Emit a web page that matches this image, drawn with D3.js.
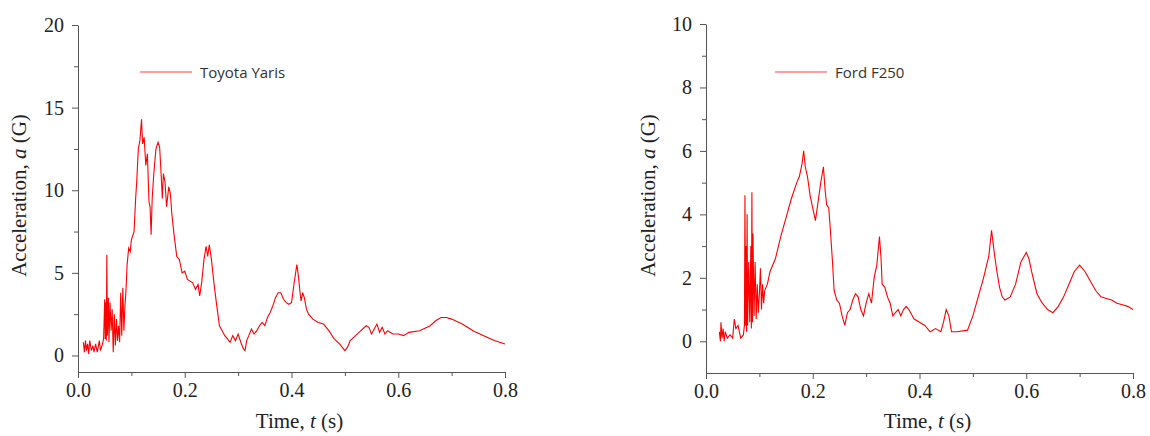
<!doctype html>
<html>
<head>
<style>
  body { margin: 0; background: #fff; }
  .domain, .tick line { stroke: #555; }
  svg text.serif, svg .tick text { font-family: "Times New Roman", "Liberation Serif", "DejaVu Serif", serif !important; }
  svg .tick text { font-size: 20px !important; fill: #222; }
</style>
<script src="https://d3js.org/d3.v7.min.js"></script>
</head>
<body>
<svg width="1150" height="436"></svg>
<script>
var xTicks = [0, 0.2, 0.4, 0.6, 0.8];
var xMinor = [0.1, 0.3, 0.5, 0.7];

var yarisT = [0.01,0.012,0.014,0.016,0.018,0.02,0.022,0.025,0.028,0.03,0.033,0.036,0.04,0.042,0.045,0.048,0.05,0.051,0.052,0.053,0.054,0.055,0.057,0.058,0.06,0.062,0.064,0.066,0.068,0.07,0.072,0.074,0.076,0.078,0.08,0.082,0.084,0.086,0.088,0.09,0.092,0.095,0.098,0.1,0.105,0.108,0.11,0.113,0.116,0.119,0.121,0.124,0.127,0.13,0.133,0.135,0.137,0.139,0.142,0.146,0.15,0.153,0.156,0.158,0.16,0.163,0.166,0.17,0.173,0.176,0.18,0.185,0.19,0.195,0.2,0.205,0.21,0.215,0.22,0.225,0.228,0.232,0.236,0.24,0.243,0.246,0.25,0.255,0.26,0.265,0.27,0.275,0.28,0.285,0.29,0.295,0.3,0.305,0.31,0.313,0.316,0.32,0.325,0.33,0.335,0.34,0.345,0.35,0.355,0.36,0.365,0.37,0.375,0.38,0.385,0.39,0.395,0.4,0.405,0.41,0.413,0.416,0.418,0.421,0.424,0.428,0.432,0.44,0.45,0.46,0.47,0.48,0.49,0.5,0.505,0.51,0.52,0.53,0.54,0.545,0.55,0.555,0.56,0.565,0.57,0.575,0.58,0.59,0.6,0.61,0.62,0.64,0.66,0.67,0.68,0.69,0.7,0.72,0.74,0.76,0.78,0.8];
var yarisA = [0.8,0.2,0.9,0.3,0.7,0.1,0.9,0.3,0.6,0.2,0.7,0.2,0.9,0.3,0.6,1.0,3.4,1.0,3.2,0.9,6.1,1.2,3.5,0.8,3.2,1.5,2.8,0.2,2.5,0.6,2.2,0.9,1.8,0.8,3.8,1.2,4.1,1.5,3.0,4.0,5.5,6.5,6.3,7.0,7.5,9.5,10.5,12.5,13.0,14.3,12.8,13.2,11.5,12.2,9.3,9.0,7.3,9.5,11.0,12.5,12.9,12.6,10.8,9.5,11.0,10.5,9.0,10.2,9.8,8.5,7.3,6.0,5.8,5.0,5.1,4.6,4.5,4.4,4.0,4.3,3.6,4.5,5.8,6.6,6.0,6.7,5.8,4.3,3.0,1.8,1.5,1.2,1.0,0.8,1.2,0.9,1.3,0.8,0.4,0.3,0.9,1.2,1.6,1.3,1.5,1.8,2.0,1.8,2.3,2.6,3.0,3.5,3.8,3.8,3.4,3.2,3.1,3.2,4.4,5.5,4.8,3.8,3.3,3.8,3.5,2.8,2.5,2.2,2.0,1.9,1.5,1.0,0.7,0.3,0.5,0.9,1.2,1.5,1.8,1.7,1.3,1.6,1.9,1.4,1.7,1.3,1.5,1.3,1.3,1.2,1.4,1.5,1.8,2.1,2.3,2.3,2.2,1.9,1.5,1.2,0.9,0.7];

var fordT = [0.025,0.027,0.028,0.03,0.032,0.034,0.036,0.04,0.045,0.05,0.053,0.056,0.06,0.065,0.07,0.072,0.073,0.074,0.075,0.076,0.077,0.078,0.08,0.082,0.084,0.085,0.086,0.087,0.088,0.09,0.092,0.094,0.096,0.098,0.1,0.102,0.104,0.106,0.108,0.11,0.115,0.12,0.13,0.14,0.15,0.16,0.17,0.175,0.18,0.183,0.186,0.19,0.195,0.2,0.205,0.21,0.215,0.22,0.223,0.226,0.23,0.233,0.237,0.24,0.245,0.25,0.255,0.26,0.265,0.27,0.275,0.28,0.285,0.29,0.295,0.3,0.305,0.31,0.315,0.32,0.325,0.328,0.33,0.335,0.34,0.345,0.35,0.355,0.36,0.365,0.37,0.375,0.38,0.39,0.4,0.41,0.42,0.43,0.44,0.445,0.45,0.455,0.46,0.47,0.49,0.5,0.51,0.52,0.53,0.535,0.54,0.545,0.55,0.555,0.56,0.57,0.58,0.59,0.6,0.605,0.61,0.62,0.63,0.64,0.65,0.66,0.67,0.68,0.69,0.7,0.71,0.72,0.73,0.74,0.75,0.76,0.77,0.78,0.79,0.8];
var fordA = [0.3,0.0,0.6,0.1,0.4,0.0,0.3,0.1,0.2,0.1,0.7,0.4,0.5,0.1,0.2,0.5,4.6,0.5,3.0,0.3,4.0,0.5,2.5,0.6,3.0,0.4,4.7,0.6,3.4,0.8,2.5,0.7,1.8,0.9,1.5,2.3,1.0,1.8,1.2,1.6,1.8,2.2,2.6,3.3,3.9,4.5,5.0,5.2,5.6,6.0,5.5,5.2,4.6,4.2,3.8,4.4,5.0,5.5,4.8,4.3,4.2,3.5,2.5,1.6,1.3,1.2,0.8,0.5,0.9,1.0,1.3,1.5,1.4,1.0,0.8,1.2,1.5,1.2,2.0,2.4,3.3,2.6,1.8,1.7,1.4,1.2,0.8,0.9,1.0,0.8,1.0,1.1,1.0,0.7,0.6,0.5,0.3,0.4,0.3,0.6,1.0,0.8,0.3,0.3,0.35,0.8,1.4,2.0,2.7,3.5,2.8,2.2,1.7,1.4,1.3,1.4,1.8,2.5,2.8,2.6,2.2,1.5,1.2,1.0,0.9,1.1,1.4,1.8,2.2,2.4,2.2,1.9,1.6,1.4,1.35,1.3,1.2,1.15,1.1,1.0];

var svg = d3.select("svg");

function panel(cfg) {
  var x = d3.scaleLinear().domain([0, 0.8]).range([cfg.x0, cfg.x1]);
  var y = d3.scaleLinear().domain(cfg.yDom).range([cfg.yBot, cfg.yTop]);

  svg.append("g")
     .attr("transform", "translate(0," + cfg.yBot + ")")
     .call(d3.axisBottom(x).tickValues(xTicks).tickFormat(d3.format(".1f")).tickSize(6).tickPadding(5));
  svg.append("g")
     .attr("transform", "translate(0," + cfg.yBot + ")")
     .call(d3.axisBottom(x).tickValues(xMinor).tickFormat("").tickSize(4))
     .select(".domain").remove();

  svg.append("g")
     .attr("transform", "translate(" + cfg.x0 + ",0)")
     .call(d3.axisLeft(y).tickValues(cfg.yTicks).tickSize(6).tickPadding(8).tickSizeOuter(0));
  svg.append("g")
     .attr("transform", "translate(" + cfg.x0 + ",0)")
     .call(d3.axisLeft(y).tickValues(cfg.yMinor).tickFormat("").tickSize(4))
     .select(".domain").remove();

  var pts = cfg.t.map(function(d, i) { return [d, cfg.a[i]]; });
  svg.append("path")
     .datum(pts)
     .attr("fill", "none")
     .attr("stroke", "#ff0000")
     .attr("stroke-width", 1.1)
     .attr("d", d3.line().x(function(d) { return x(d[0]); }).y(function(d) { return y(d[1]); }));

  svg.append("line")
     .attr("x1", cfg.legX).attr("x2", cfg.legX + 52)
     .attr("y1", 72).attr("y2", 72)
     .attr("stroke", "#ff4040").attr("stroke-width", 1.2);
  svg.append("text")
     .attr("x", cfg.legX + 60).attr("y", 78)
     .attr("font-family", "Open Sans, sans-serif").attr("font-size", "15px")
     .attr("fill", "#333")
     .text(cfg.name);

  svg.append("text")
     .attr("class", "serif")
     .attr("x", (cfg.x0 + cfg.x1) / 2 + 8).attr("y", 428)
     .attr("text-anchor", "middle")
     .attr("font-size", "21px")
     .attr("fill", "#222")
     .html("Time, <tspan font-style='italic'>t</tspan> (s)");

  svg.append("text")
     .attr("class", "serif")
     .attr("transform", "translate(" + cfg.titleX + "," + ((cfg.yTop + cfg.yBot) / 2 - 3) + ") rotate(-90)")
     .attr("text-anchor", "middle")
     .attr("font-size", "21px")
     .attr("fill", "#222")
     .html("Acceleration, <tspan font-style='italic'>a</tspan> (G)");
}

panel({ x0: 78, x1: 505, yBot: 372, yTop: 25, yDom: [-1, 20],
        yTicks: [0, 5, 10, 15, 20], yMinor: [2.5, 7.5, 12.5, 17.5],
        t: yarisT, a: yarisA, name: "Toyota Yaris", legX: 140, titleX: 26 });
panel({ x0: 706, x1: 1133, yBot: 373, yTop: 24, yDom: [-1, 10],
        yTicks: [0, 2, 4, 6, 8, 10], yMinor: [1, 3, 5, 7, 9],
        t: fordT, a: fordA, name: "Ford F250", legX: 775, titleX: 655 });
</script>
</body>
</html>
